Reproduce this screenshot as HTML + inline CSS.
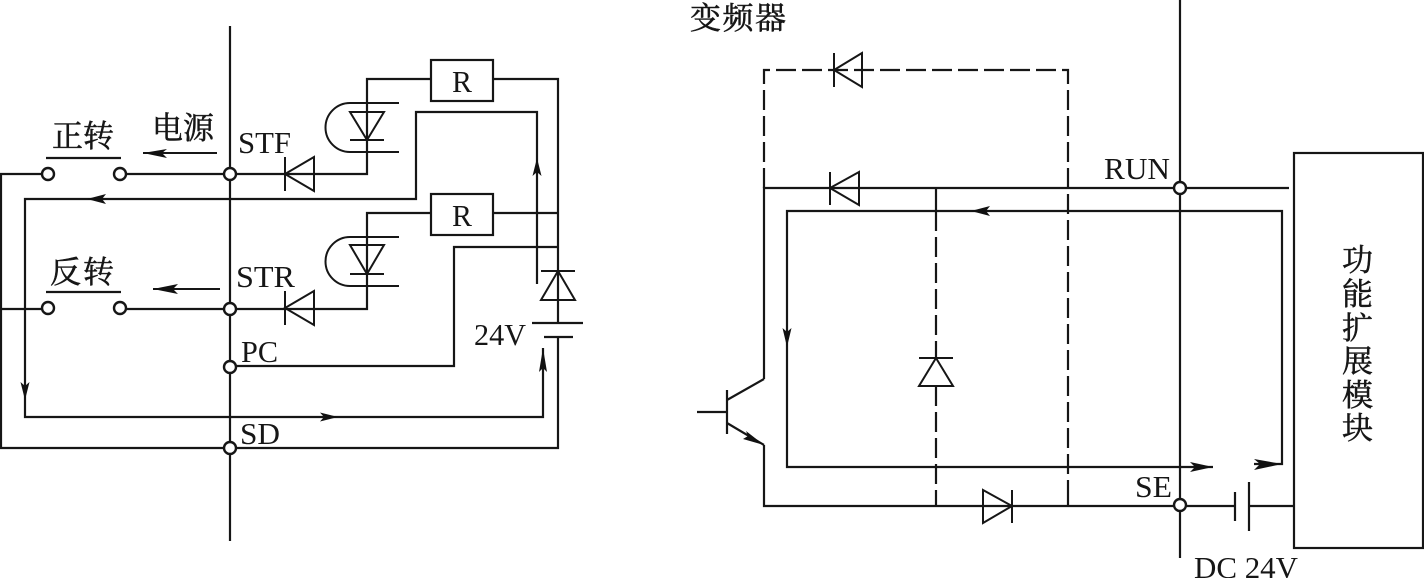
<!DOCTYPE html>
<html><head><meta charset="utf-8"><style>
html,body{margin:0;padding:0;background:#fff;width:1424px;height:578px;overflow:hidden}
svg{display:block}
.w{fill:none;stroke:#161616;stroke-width:2.2}
.t{fill:none;stroke:#161616;stroke-width:2}
.d{fill:none;stroke:#161616;stroke-width:2.2;stroke-dasharray:20 6}
.n{fill:#fff;stroke:#161616;stroke-width:2.4}
.a{fill:#111;stroke:none}
text{fill:#161616;font-family:"Liberation Serif","Noto Serif CJK SC",serif;font-size:31px}
.c{font-size:31px;stroke:#161616;stroke-width:.5}
</style></head><body>
<svg width="1424" height="578" viewBox="0 0 1424 578" xmlns="http://www.w3.org/2000/svg">
<!-- LEFT -->
<path class="w" d="M230 26V541"/>
<path class="w" d="M48 174H1V448H558V337"/>
<path class="w" d="M1 309H48"/>
<path class="w" d="M120 174H367V79H431M493 79H558V271"/>
<path class="w" d="M120 309H367V213H431M493 213H558"/>
<path class="w" d="M537 284V112H416V199H25V417H543V348"/>
<path class="w" d="M230 366H454V247H558"/>
<path class="w" d="M558 271V323"/>
<path class="w" d="M46 158H121M46 292H121"/>
<path class="t" d="M143 153H217M153 289H220"/>
<rect class="w" x="431" y="60" width="62" height="41"/>
<rect class="w" x="431" y="194" width="62" height="41"/>
<!-- opto -->
<path class="t" d="M399 103H350A24.500 24.500 0 0 0 350 152H399"/>
<path class="t" d="M350 112H384L367 140ZM350 140H384"/>
<path class="t" d="M399 237H350A24.500 24.500 0 0 0 350 286H399"/>
<path class="t" d="M350 245H384L367 274ZM350 274H384"/>
<!-- diodes on STF/STR -->
<path class="t" d="M285 157V191M314 157L285 174L314 191Z"/>
<path class="t" d="M285 291V325M314 291L285 308L314 325Z"/>
<!-- battery + diode -->
<path class="t" d="M541 271H575M558 271L541 300H575Z"/>
<path class="w" d="M532 323H583M544 337H573"/>
<!-- arrowheads -->
<path class="a" d="M143 153L167 149L162 153L167 158Z"/>
<path class="a" d="M153 289L178 284L173 289L178 294Z"/>
<path class="a" d="M87 199L106 194L102 199L106 204Z"/>
<path class="a" d="M537 158L541.500 176L537 172L532.500 176Z"/>
<path class="a" d="M25 400L20.500 382L25 386L29.500 382Z"/>
<path class="a" d="M338 417L320 412.500L324 417L320 421.500Z"/>
<path class="a" d="M543 348L547 372L543 368L539 372Z"/>
<!-- nodes -->
<circle class="n" cx="48" cy="174" r="6"/><circle class="n" cx="120" cy="174" r="6"/>
<circle class="n" cx="48" cy="308" r="6"/><circle class="n" cx="120" cy="308" r="6"/>
<circle class="n" cx="230" cy="174" r="6"/><circle class="n" cx="230" cy="309" r="6"/>
<circle class="n" cx="230" cy="367" r="6"/><circle class="n" cx="230" cy="448" r="6"/>
<!-- left text -->
<text class="c" x="52" y="147" textLength="62">正转</text>
<text class="c" x="152" y="139" textLength="62">电源</text>
<text class="c" x="50" y="283" textLength="64">反转</text>
<text x="238" y="153" textLength="53" lengthAdjust="spacingAndGlyphs">STF</text>
<text x="236" y="287" textLength="59" lengthAdjust="spacingAndGlyphs">STR</text>
<text x="241" y="362" textLength="37" lengthAdjust="spacingAndGlyphs">PC</text>
<text x="240" y="444" textLength="40" lengthAdjust="spacingAndGlyphs">SD</text>
<text x="474" y="345" textLength="52" lengthAdjust="spacingAndGlyphs">24V</text>
<text x="452" y="92" textLength="20" lengthAdjust="spacingAndGlyphs">R</text>
<text x="452" y="226" textLength="20" lengthAdjust="spacingAndGlyphs">R</text>
<!-- RIGHT -->
<path class="w" d="M1180 0V558"/>
<path class="d" d="M764 188V70H1068V490"/>
<path class="w" d="M1068 490V506"/>
<path class="w" d="M764 379V188H1289"/>
<path class="w" d="M764 445V506H1235M1249 506H1294"/>
<path class="w" d="M697 412H727M727 390V434M727 400L764 379M727 423L764 445"/>
<path class="a" d="M764 445L743 439L748 436L746 431Z"/>
<path class="w" d="M936 188V211"/>
<path class="d" d="M936 211V358M936 386V490"/>
<path class="w" d="M936 490V506"/>
<path class="w" d="M1213 467H787V211H1282V464H1254"/>
<path class="t" d="M834 53V87M862 53L834 70L862 87Z"/>
<path class="t" d="M830 172V205M859 172L830 188L859 205Z"/>
<path class="t" d="M1012 490V523M983 490L1012 506L983 523Z"/>
<path class="t" d="M919 358H953M936 358L919 386H953Z"/>
<path class="w" d="M1235 492V521M1249 482V531"/>
<rect class="w" x="1294" y="153" width="129" height="395"/>
<path class="a" d="M971 211L990 206L986 211L990 216Z"/>
<path class="a" d="M787 347L782.500 328L787 332L791.500 328Z"/>
<path class="a" d="M1213 467L1190 462L1195 467L1190 472Z"/>
<path class="a" d="M1282 464L1254 459L1260 464L1254 470Z"/>
<circle class="n" cx="1180" cy="188" r="6"/><circle class="n" cx="1180" cy="505" r="6"/>
<text x="1104" y="179" textLength="66" lengthAdjust="spacingAndGlyphs">RUN</text>
<text x="1135" y="497" textLength="37" lengthAdjust="spacingAndGlyphs">SE</text>
<text x="1194" y="578" textLength="104" lengthAdjust="spacingAndGlyphs">DC 24V</text>
<text class="c" x="690" y="29" textLength="96">变频器</text>
<text class="c" x="1342" y="271">功</text>
<text class="c" x="1342" y="305">能</text>
<text class="c" x="1342" y="339">扩</text>
<text class="c" x="1342" y="372">展</text>
<text class="c" x="1342" y="406">模</text>
<text class="c" x="1342" y="439">块</text>
</svg>
</body></html>
